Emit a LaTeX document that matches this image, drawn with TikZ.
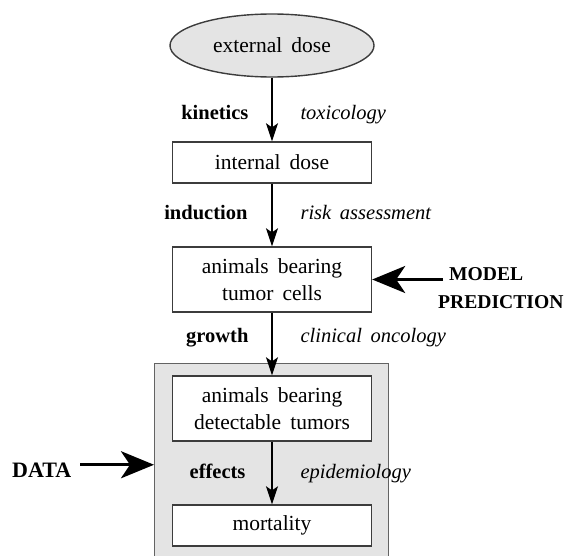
\documentclass[tikz,border=0pt]{standalone}
\usepackage{fontspec}
\setmainfont{Liberation Serif}[WordSpace=1.7]
\definecolor{boxgray}{RGB}{228,228,228}
\definecolor{edgegray}{RGB}{60,60,60}
\usetikzlibrary{arrows.meta,positioning,shapes.geometric,calc}

\begin{document}
\begin{tikzpicture}[x=1pt, y=-1pt,
  stage/.style={rectangle, draw=edgegray, line width=1.4pt, fill=white,
                minimum width=199pt, minimum height=#1, align=center,
                font=\fontsize{21.5}{27}\selectfont},
  proc/.style={anchor=base east, font=\fontsize{20.5}{24}\selectfont\bfseries},
  disc/.style={anchor=base west, font=\fontsize{20.5}{24}\selectfont\itshape},
  flow/.style={-{Stealth[length=18pt, width=12pt, inset=4pt]}, line width=1.4pt},
  big/.style={-{Stealth[length=33pt, width=27pt, inset=9pt]}, line width=3.2pt},
  outer/.style={font=\fontsize{19.6}{28}\selectfont\bfseries, inner sep=0pt}
]
\useasboundingbox (0,0) rectangle (565,556);

% Observed part: gray frame
\node[rectangle, draw=edgegray!80, line width=1.4pt, fill=boxgray,
      minimum width=234pt, minimum height=200pt, anchor=north west] (obs) at (154,363) {};

% Stages
\node[ellipse, draw=edgegray, line width=1.4pt, fill=boxgray,
      minimum width=204pt, minimum height=63pt,
      font=\fontsize{21.5}{27}\selectfont] (ext) at (272,45.5) {external dose};
\node[stage=41pt] (int) at (272,162.5) {internal dose};
\node[stage=65pt] (cells) at (272,279.5) {animals bearing\\tumor cells};
\node[stage=65pt] (tum) at (272,408.5) {animals bearing\\detectable tumors};
\node[stage=41pt] (mort) at (272,525.5) {mortality};

% Arrows
\draw[flow] (ext.south) -- (int.north);
\draw[flow] (int.south) -- (cells.north);
\draw[flow] (cells.south) -- (tum.north);
\draw[flow] (tum.south) -- (mort.north);

% Process and discipline labels
\node[proc] (kin) at (252,120) {kinetics};
\node[disc] (tox) at (297,120) {toxicology};
\node[proc] (ind) at (251,220) {induction};
\node[disc] (risk) at (297,220) {risk assessment};
\node[proc] (grow) at (252,342) {growth};
\node[disc] (clin) at (297,342) {clinical oncology};
\node[proc] (eff) at (249,478) {effects};
\node[disc] (epi) at (297,478) {epidemiology};

% Model and data
\node[outer, align=left, anchor=west] (model) at (438,288) {\hspace*{11pt}MODEL\\PREDICTION};
\node[outer, anchor=base west, font=\fontsize{22}{26}\selectfont\bfseries] (data) at (12,477) {DATA};
\draw[big] ([xshift=5pt]model.west |- cells.east) -- (cells.east);
\draw[big] ([xshift=9pt]data.east) ++(0,-5) coordinate (dstart) -- (dstart -| obs.west);
\end{tikzpicture}
\end{document}
